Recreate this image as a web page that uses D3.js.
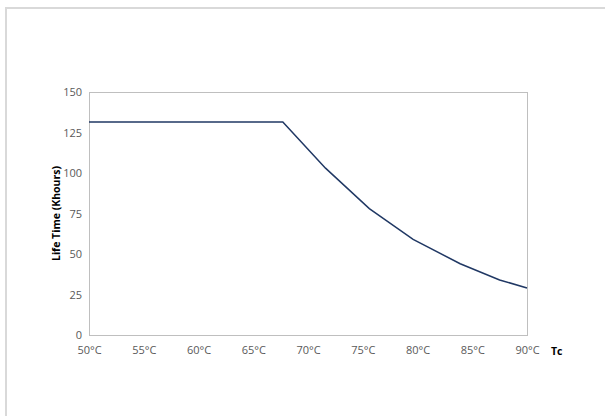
<!DOCTYPE html>
<html><head><meta charset="utf-8">
<script src="https://cdn.jsdelivr.net/npm/d3@7"></script>
<style>html,body{margin:0;padding:0;background:#fff;}svg{display:block;font-family:"Open Sans","Noto Sans",sans-serif;}</style>
</head><body>
<svg id="c" width="605" height="416"></svg>
<script>
const temps = [50, 67.7, 71.6, 75.6, 79.6, 83.9, 87.5, 90];
const lifeTime = [131.5, 131.5, 103, 78, 59, 44, 34, 29];
const xTicks = [50, 55, 60, 65, 70, 75, 80, 85, 90];
const yTicks = [0, 25, 50, 75, 100, 125, 150];

const svg = d3.select("#c");
svg.append("rect").attr("x", 6).attr("y", 8).attr("width", 620).attr("height", 420)
  .attr("fill", "none").attr("stroke", "#d9d9d9").attr("stroke-width", 2);

const L = 89, R = 527, T = 92, B = 335;
const x = d3.scaleLinear().domain([50, 90]).range([L, R]);
const y = d3.scaleLinear().domain([0, 150]).range([B, T]);

svg.append("rect").attr("x", L + 0.5).attr("y", T + 0.5).attr("width", R - L).attr("height", B - T)
  .attr("fill", "none").attr("stroke", "#bfbfbf").attr("stroke-width", 1);

const yAxis = svg.append("g").attr("transform", `translate(${L},0)`)
  .call(d3.axisLeft(y).tickValues(yTicks).tickSize(0).tickPadding(7));
yAxis.select(".domain").remove();
yAxis.selectAll("text").attr("font-size", 11).attr("fill", "#595959")
  .attr("font-family", '"Open Sans","Noto Sans",sans-serif');

const xAxis = svg.append("g").attr("transform", `translate(0,${B})`)
  .call(d3.axisBottom(x).tickValues(xTicks).tickSize(0).tickPadding(11).tickFormat(d => d + "°C"));
xAxis.select(".domain").remove();
xAxis.selectAll("text").attr("font-size", 11).attr("fill", "#595959")
  .attr("font-family", '"Open Sans","Noto Sans",sans-serif');

const pts = temps.map((t, i) => [t, lifeTime[i]]);
svg.append("path").datum(pts)
  .attr("d", d3.line().x(d => x(d[0])).y(d => y(d[1])))
  .attr("fill", "none").attr("stroke", "#203864").attr("stroke-width", 1.5);

svg.append("text").attr("transform", `translate(60,${(T + B) / 2}) rotate(-90)`)
  .attr("text-anchor", "middle").attr("font-size", 10.5).attr("font-weight", "bold")
  .attr("fill", "#000").text("Life Time (Khours)");

svg.append("text").attr("x", 551).attr("y", 355)
  .attr("font-size", 10.5).attr("font-weight", "bold").attr("fill", "#000").text("Tc");
</script>
</body></html>
